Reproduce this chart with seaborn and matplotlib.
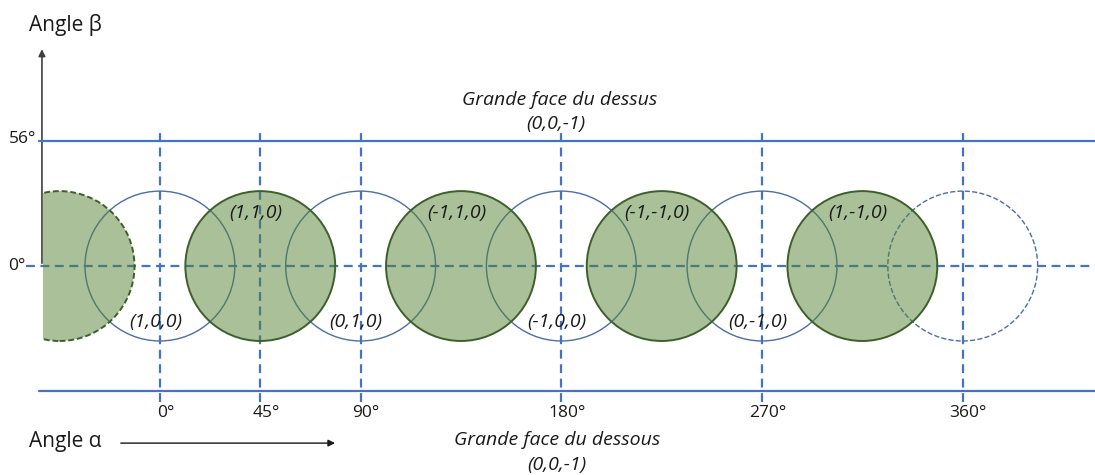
import numpy as np
import matplotlib
matplotlib.use("Agg")
import matplotlib.pyplot as plt
import matplotlib.patches as mpatches
import seaborn as sns
import pandas as pd

# angles alpha (deg) with vertical reference lines
alpha_ticks = [0, 45, 90, 180, 270, 360]
alpha_labels = ["0°", "45°", "90°", "180°", "270°", "360°"]

# beta reference lines (deg)
beta_lines = [56, -56]
beta_labels = ["56°", "0°"]

# faces: centre on alpha, label, kind
face_alpha = [-45, 0, 45, 90, 135, 180, 225, 270, 315, 360]
face_label = ["", "(1,0,0)", "(1,1,0)", "(0,1,0)", "(-1,1,0)", "(-1,0,0)",
              "(-1,-1,0)", "(0,-1,0)", "(1,-1,0)", ""]
face_kind = ["big_cut", "small", "big", "small", "big", "small",
             "big", "small", "big", "small_dash"]
radius = 33.6

top_text = ["Grande face du dessus", "(0,0,-1)"]
bottom_text = ["Grande face du dessous", "(0,0,-1)"]

sns.set_theme(style="white")
plt.rcParams["font.family"] = ["Open Sans", "DejaVu Sans"]

blue = "#4472C4"
green_fill = "#548235"
green_edge = "#3D5F2A"
ring = "#4A6EA8"
ink = "#1a1a1a"

fig = plt.figure(figsize=(10.95, 4.75), dpi=100)
ax = fig.add_axes([0, 0, 1, 1])
ax.set_xlim(-71.7, 419.3)
ax.set_ylim(-93.7, 119.3)
ax.set_aspect("equal")
ax.axis("off")

# horizontal lines
lines = pd.DataFrame({"x": [-54.0, 419.3, -54.0, 419.3],
                      "y": [beta_lines[0]] * 2 + [beta_lines[1]] * 2,
                      "g": ["top", "top", "bot", "bot"]})
sns.lineplot(data=lines, x="x", y="y", units="g", estimator=None,
             color=blue, lw=1.6, ax=ax, zorder=1)
ax.plot([-60, 419.3], [0, 0], color=blue, lw=1.6, ls=(0, (4, 2.5)), zorder=1)

for a in alpha_ticks:
    ax.plot([a, a], [-61, 61], color=blue, lw=1.6, ls=(0, (4, 2.5)), zorder=1)

# faces
for a, lab, kind in zip(face_alpha, face_label, face_kind):
    if kind.startswith("small"):
        c = mpatches.Circle((a, 0), radius, facecolor="none", edgecolor=ring,
                            lw=1.0, ls="--" if kind == "small_dash" else "-",
                            zorder=2)
        ax.add_patch(c)
    else:
        c = mpatches.Circle((a, 0), radius, facecolor=green_fill, alpha=0.5,
                            edgecolor="none", zorder=3)
        e = mpatches.Circle((a, 0), radius, facecolor="none",
                            edgecolor=green_edge, lw=1.4,
                            ls=(0, (3, 1.5)) if kind == "big_cut" else "-",
                            zorder=4)
        ax.add_patch(c)
        ax.add_patch(e)
        if kind == "big_cut":
            clip = mpatches.Rectangle((-52.6, -60), 200, 120, transform=ax.transData)
            c.set_clip_path(clip)
            e.set_clip_path(clip)
    if lab:
        y = 23.8 if kind == "big" else -25.1
        ax.text(a - 2, y, lab, ha="center", va="center", style="italic",
                fontsize=14, color=ink, zorder=5)

# tick labels
for a, lab in zip(alpha_ticks, alpha_labels):
    ax.text(a + 2.5, -66, lab, ha="center", va="center", fontsize=12.5,
            color=ink)
ax.text(-55.5, 57, beta_labels[0], ha="right", va="center", fontsize=12.5,
        color=ink)
ax.text(-60.5, 0, beta_labels[1], ha="right", va="center", fontsize=12.5,
        color=ink)

# axes arrows
ax.annotate("", xy=(-52.9, 98.5), xytext=(-52.9, 0),
            arrowprops=dict(arrowstyle="-|>", color="#404040", lw=1.2,
                            mutation_scale=10), zorder=0)
ax.annotate("", xy=(79.8, -79.4), xytext=(-18.8, -79.4),
            arrowprops=dict(arrowstyle="-|>", color=ink, lw=1.0,
                            mutation_scale=10))
ax.text(-42.3, 108, "Angle β", ha="center", va="center", fontsize=15,
        color=ink)
ax.text(-42.6, -78.6, "Angle α", ha="center", va="center", fontsize=15,
        color=ink)

# face annotations
ax.text(179.4, 74.4, top_text[0], ha="center", va="center", style="italic",
        fontsize=14, color=ink)
ax.text(177.5, 63.6, top_text[1], ha="center", va="center", style="italic",
        fontsize=14, color=ink)
ax.text(178, -78, bottom_text[0], ha="center", va="center", style="italic",
        fontsize=14, color=ink)
ax.text(178, -89.3, bottom_text[1], ha="center", va="center", style="italic",
        fontsize=14, color=ink)

fig.savefig("out.png", dpi=100)
